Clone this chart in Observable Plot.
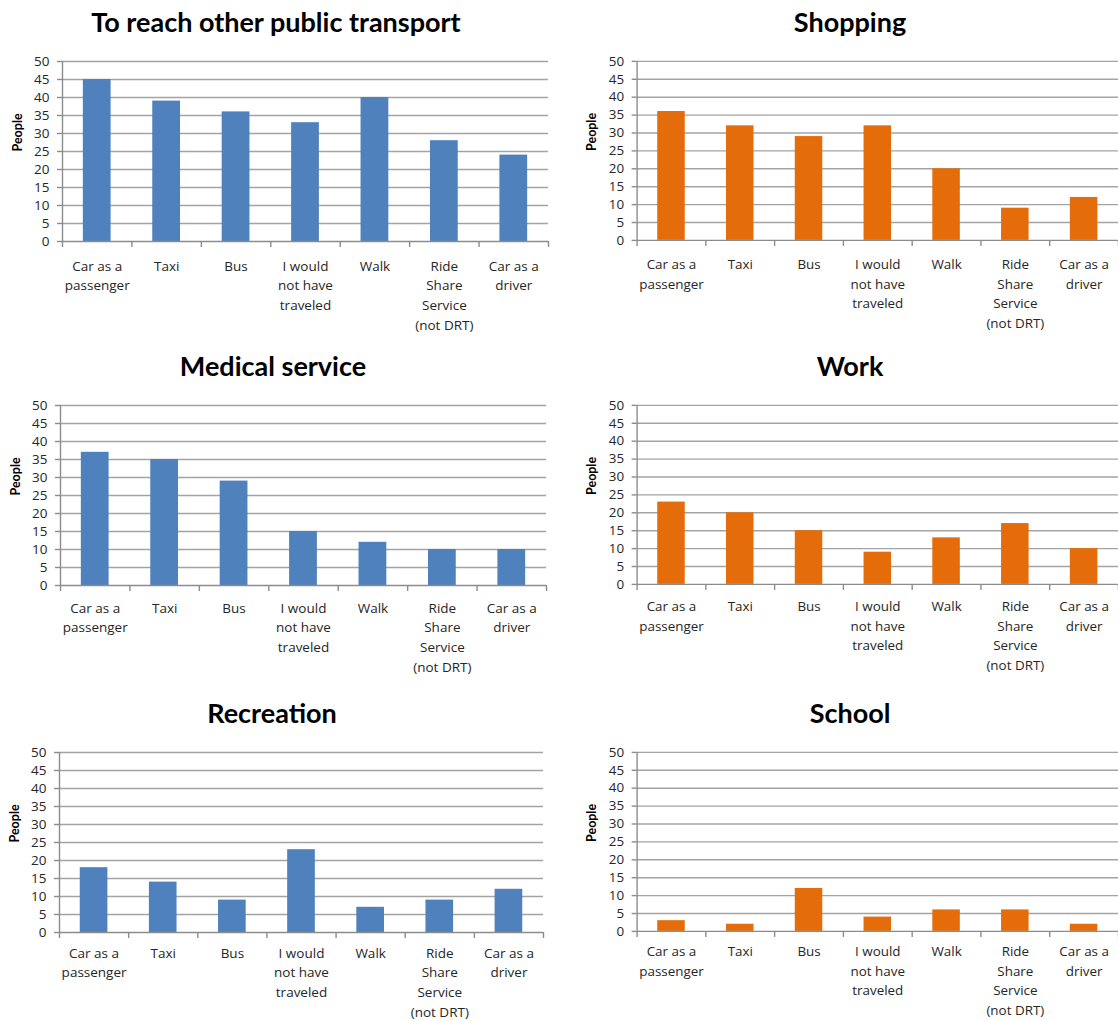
<!DOCTYPE html>
<html>
<head>
<meta charset="utf-8">
<script src="https://cdn.jsdelivr.net/npm/d3@7"></script>
<script src="https://cdn.jsdelivr.net/npm/@observablehq/plot@0.6"></script>
<style>
  html, body { margin: 0; padding: 0; background: #fff; overflow: hidden; }
  #page { position: relative; width: 1118px; height: 1021px; overflow: hidden; font-family: "Open Sans", Lato, sans-serif; }
  .title { position: absolute; width: 560px; text-align: center; font-family: Lato, "Open Sans", sans-serif; font-weight: bold; font-size: 27px; line-height: 24px; color: #000; white-space: nowrap; }
  .chart { position: absolute; }
  .chart svg { overflow: visible; }
</style>
</head>
<body>
<div id="page"></div>
<script>
// Travel mode that respondents would have used instead of the DRT service
const modes = ["Car as a passenger", "Taxi", "Bus", "I would not have traveled", "Walk", "Ride Share Service (not DRT)", "Car as a driver"];
const modeLabels = ["Car as a\npassenger", "Taxi", "Bus", "I would\nnot have\ntraveled", "Walk", "Ride\nShare\nService\n(not DRT)", "Car as a\ndriver"];
const yTicks = [0, 5, 10, 15, 20, 25, 30, 35, 40, 45, 50];

// Number of people per trip purpose
const publicTransport = [45, 39, 36, 33, 40, 28, 24];
const shopping        = [36, 32, 29, 32, 20, 9, 12];
const medical         = [37, 35, 29, 15, 12, 10, 10];
const work            = [23, 20, 15, 9, 13, 17, 10];
const recreation      = [18, 14, 9, 23, 7, 9, 12];
const school          = [3, 2, 12, 4, 6, 6, 2];

const titles = ["To reach other public transport", "Shopping", "Medical service", "Work", "Recreation", "School"];
const series = [publicTransport, shopping, medical, work, recreation, school];

const blue = "#4F81BD";
const orange = "#E46C0A";
const gridColor = "#a3a3a3";
const axisColor = "#8c8c8c";
const textColor = "#262626";
const font = "'Open Sans', Lato, sans-serif";

// Panel placement on the page (left column blue, right column orange)
const layout = [
  {left: 0,   top: 40,  width: 560, ml: 62, mr: 12, color: blue,   titleCenter: 276, titleTop: 10,  labelGap: 15},
  {left: 560, top: 40,  width: 561, ml: 77, mr: 0,  color: orange, titleCenter: 850, titleTop: 10,  labelGap: 15},
  {left: 0,   top: 384, width: 560, ml: 60, mr: 14, color: blue,   titleCenter: 273, titleTop: 354, labelGap: 13},
  {left: 560, top: 384, width: 561, ml: 77, mr: 0,  color: orange, titleCenter: 850, titleTop: 354, labelGap: 13},
  {left: 0,   top: 731, width: 560, ml: 59, mr: 17, color: blue,   titleCenter: 272, titleTop: 701, labelGap: 11},
  {left: 560, top: 731, width: 561, ml: 77, mr: 0,  color: orange, titleCenter: 850, titleTop: 701, labelGap: 11}
];

const page = document.getElementById("page");

titles.forEach((title, k) => {
  const L = layout[k];
  const rows = modes.map((m, i) => ({mode: m, label: modeLabels[i], value: series[k][i]}));
  const step = (L.width - L.ml - L.mr) / modes.length;

  const chart = Plot.plot({
    width: L.width,
    height: 301,
    marginTop: 21,
    marginBottom: 100,
    marginLeft: L.ml,
    marginRight: L.mr,
    style: {fontFamily: font, background: "transparent", color: textColor},
    x: {type: "band", domain: modes, paddingInner: 0.6, paddingOuter: 0.3, align: 0.5, round: false, axis: null},
    y: {domain: [0, 50], axis: null},
    marks: [
      // horizontal gridlines
      Plot.ruleY(yTicks.filter(d => d > 0), {stroke: gridColor, strokeWidth: 1.4}),
      // bars
      Plot.barY(rows, {x: "mode", y: "value", fill: L.color}),
      // category axis line and boundary ticks
      Plot.ruleY([0], {stroke: axisColor, strokeWidth: 1.4}),
      Plot.ruleX(modes, {x: d => d, y1: 0, y2: 0, insetBottom: -6, dx: -step / 2, stroke: axisColor, strokeWidth: 1.4}),
      Plot.ruleX(modes.slice(-1), {x: d => d, y1: 0, y2: 0, insetBottom: -6, dx: step / 2, stroke: axisColor, strokeWidth: 1.4}),
      // value axis line
      Plot.ruleX(modes.slice(0, 1), {x: d => d, y1: 50, y2: 0, dx: -step / 2, stroke: axisColor, strokeWidth: 1.4}),
      Plot.axisY({ticks: yTicks, tickSize: 5, tickPadding: 8, fontSize: 13.5, fill: textColor, stroke: axisColor, strokeWidth: 1.4, label: null}),
      // category labels
      Plot.text(rows, {x: "mode", y: 0, text: "label", lineAnchor: "top", dy: L.labelGap, lineHeight: 1.46, fontSize: 13.5, fill: textColor}),
      // axis title
      Plot.text(["People"], {text: d => d, frameAnchor: "left", rotate: -90, dx: -45, fontFamily: "Lato, sans-serif", fontSize: 12.5, fontWeight: "bold", fill: "#000"})
    ]
  });

  const holder = document.createElement("div");
  holder.className = "chart";
  holder.style.left = L.left + "px";
  holder.style.top = L.top + "px";
  holder.appendChild(chart);
  page.appendChild(holder);

  const t = document.createElement("div");
  t.className = "title";
  t.textContent = title;
  t.style.left = (L.titleCenter - 280) + "px";
  t.style.top = L.titleTop + "px";
  page.appendChild(t);
});
</script>
</body>
</html>
